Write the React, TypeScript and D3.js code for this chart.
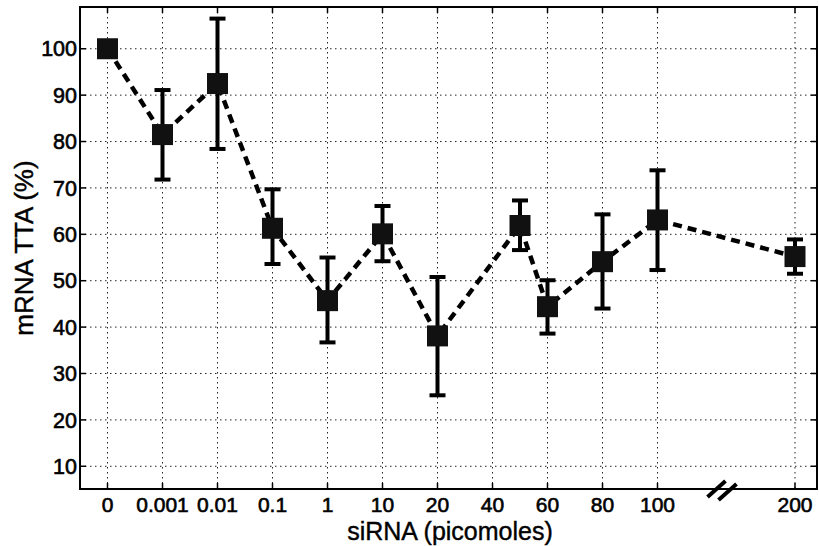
import React from "react";
import * as d3 from "d3";

const tickLabels = ["0", "0.001", "0.01", "0.1", "1", "10", "20", "40", "60", "80", "100", "200"];
const tickIndex = [0, 1, 2, 3, 4, 5, 6, 7, 8, 9, 10, 12.5];
const pointIndex = [0, 1, 2, 3, 4, 5, 6, 7.5, 8, 9, 10, 12.5];
const means = [100, 81.5, 92.5, 61.3, 45.7, 60.1, 38.1, 61.9, 44.4, 54.1, 63.1, 55.2];
const upper = [100, 91.1, 106.5, 69.7, 55.0, 66.1, 50.8, 67.3, 50.1, 64.3, 73.8, 58.9];
const lower = [100, 71.8, 78.4, 53.6, 36.7, 54.2, 25.3, 56.6, 38.6, 44.0, 52.3, 51.5];
const yTicks = [10, 20, 30, 40, 50, 60, 70, 80, 90, 100];
const breakIndex = 11.2;

const W = 819;
const H = 546;
const L = 80, R = 817, T = 7, B = 489;

export default function App() {
  const x = d3.scaleLinear().domain([-0.5, 12.9]).range([L, R]);
  const y = d3.scaleLinear().domain([5.1, 109]).range([B, T]);
  const line = d3
    .line<number>()
    .x((_, i) => x(pointIndex[i]))
    .y((d) => y(d));
  const font = "'Liberation Sans', Arial, Helvetica, sans-serif";
  const bx = x(breakIndex);
  return (
    <svg
      width={W}
      height={H}
      style={{ position: "absolute", left: 0, top: 0, background: "#fff" }}
      fontFamily={font}
    >
      <rect x={0} y={0} width={W} height={H} fill="#fff" />
      {/* grid */}
      {yTicks.map((t) => (
        <line key={"gy" + t} x1={L} x2={R} y1={y(t)} y2={y(t)} stroke="#222" strokeWidth={1} strokeDasharray="1.5,3.5" />
      ))}
      {tickIndex.map((t, i) => (
        <line key={"gx" + i} x1={x(t)} x2={x(t)} y1={T} y2={B} stroke="#222" strokeWidth={1} strokeDasharray="1.5,3.5" />
      ))}
      {/* ticks */}
      {yTicks.map((t) => (
        <g key={"ty" + t}>
          <line x1={L} x2={L + 6} y1={y(t)} y2={y(t)} stroke="#000" strokeWidth={1.5} />
          <line x1={R} x2={R - 6} y1={y(t)} y2={y(t)} stroke="#000" strokeWidth={1.5} />
          <text x={L - 3} y={y(t)} dy="0.36em" textAnchor="end" fontSize={21.5} fill="#000" stroke="#000" strokeWidth={0.6}>
            {t}
          </text>
        </g>
      ))}
      {tickIndex.map((t, i) => (
        <g key={"tx" + i}>
          <line x1={x(t)} x2={x(t)} y1={B} y2={B - 6} stroke="#000" strokeWidth={1.5} />
          <line x1={x(t)} x2={x(t)} y1={T} y2={T + 6} stroke="#000" strokeWidth={1.5} />
          <text x={x(t)} y={B + 23} textAnchor="middle" fontSize={21} fill="#000" stroke="#000" strokeWidth={0.6}>
            {tickLabels[i]}
          </text>
        </g>
      ))}
      {/* frame */}
      <rect x={L} y={T} width={R - L} height={B - T} fill="none" stroke="#000" strokeWidth={2} />
      {/* axis break */}
      <line x1={bx - 16} y1={B + 8} x2={bx + 2} y2={B - 8} stroke="#000" strokeWidth={4} />
      <line x1={bx - 5} y1={B + 11} x2={bx + 13} y2={B - 5} stroke="#000" strokeWidth={4} />
      {/* dashed line */}
      <path d={line(means) || ""} fill="none" stroke="#000" strokeWidth={4.5} strokeDasharray="9,6" />
      {/* error bars */}
      {means.map((m, i) => {
        const cx = x(pointIndex[i]);
        if (upper[i] === lower[i]) return null;
        return (
          <g key={"e" + i}>
            <line x1={cx} x2={cx} y1={y(upper[i])} y2={y(lower[i])} stroke="#000" strokeWidth={4} />
            <line x1={cx - 8} x2={cx + 8} y1={y(upper[i])} y2={y(upper[i])} stroke="#000" strokeWidth={4} />
            <line x1={cx - 8} x2={cx + 8} y1={y(lower[i])} y2={y(lower[i])} stroke="#000" strokeWidth={4} />
          </g>
        );
      })}
      {/* markers */}
      {means.map((m, i) => (
        <rect key={"m" + i} x={x(pointIndex[i]) - 10.5} y={y(m) - 10.5} width={21} height={21} fill="#111" />
      ))}
      {/* labels */}
      <text x={450} y={540} textAnchor="middle" fontSize={25} fill="#000" stroke="#000" strokeWidth={0.4}>
        siRNA (picomoles)
      </text>
      <text
        transform={`translate(33, 248) rotate(-90)`}
        textAnchor="middle"
        fontSize={26}
        fill="#000"
        stroke="#000"
        strokeWidth={0.4}
      >
        mRNA TTA (%)
      </text>
    </svg>
  );
}
